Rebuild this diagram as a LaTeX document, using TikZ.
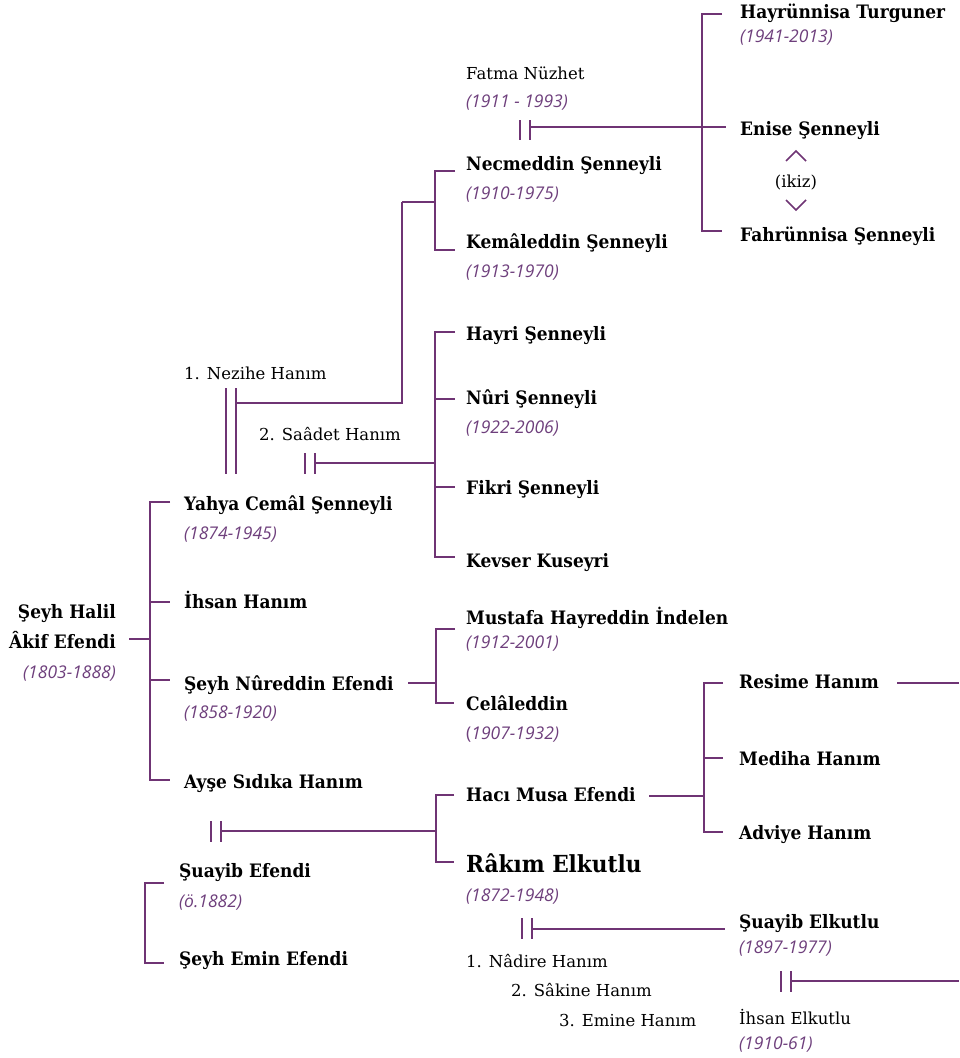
\documentclass[tikz,border=0pt]{standalone}
\usepackage{fontspec}
\setmainfont{DejaVu Serif}
\newfontfamily\slabfont{DejaVu Serif}
\newfontfamily\slabbold[FakeStretch=0.92]{DejaVu Serif Bold}
\newfontfamily\datefont{Open Sans}
\definecolor{lc}{HTML}{6F3474}
\definecolor{dc}{HTML}{6E3F7C}
\newcommand\nmf{\slabbold\fontsize{18.5}{20}\selectfont}
\newcommand\bigf{\slabbold\fontsize{23.5}{26}\selectfont}
\newcommand\rgf{\slabfont\fontsize{16.5}{20}\selectfont}
\newcommand\dtf{\datefont\itshape\fontsize{17.5}{20}\selectfont}
\tikzset{
  ln/.style={draw=lc, line width=1.8pt},
  nm/.style={anchor=base west, inner sep=0pt, font=\nmf, text=black},
  nmr/.style={anchor=base east, inner sep=0pt, font=\nmf, text=black},
  big/.style={anchor=base west, inner sep=0pt, font=\bigf, text=black},
  rg/.style={anchor=base west, inner sep=0pt, font=\rgf, text=black},
  dt/.style={anchor=base west, inner sep=0pt, font=\dtf, text=dc},
  dtr/.style={anchor=base east, inner sep=0pt, font=\dtf, text=dc},
}
\begin{document}
\begin{tikzpicture}[x=1pt,y=-1pt]
\useasboundingbox (0,0) rectangle (959,1058);

% ---------- texts ----------
\node[nmr] (halil1) at (116,618) {Şeyh Halil};
\node[nmr] (halil2) at (116,648) {Âkif Efendi};
\node[dtr] (halild) at (116,678) {(1803-1888)};

\node[nm] (yahya) at (184,510) {Yahya Cemâl Şenneyli};
\node[dt] (yahyad) at (184,539) {(1874-1945)};
\node[nm] (ihsan) at (184,608) {İhsan Hanım};
\node[nm] (nureddin) at (184,690) {Şeyh Nûreddin Efendi};
\node[dt] (nureddind) at (184,718) {(1858-1920)};
\node[nm] (ayse) at (184,788) {Ayşe Sıdıka Hanım};

\node[rg] (nezihe) at (184,379) {1. Nezihe Hanım};
\node[rg] (saadet) at (259,440) {2. Saâdet Hanım};

\node[nm] (necmeddin) at (466,170) {Necmeddin Şenneyli};
\node[dt] (necmeddind) at (466,199) {(1910-1975)};
\node[nm] (kemaleddin) at (466,248) {Kemâleddin Şenneyli};
\node[dt] (kemaleddind) at (466,277) {(1913-1970)};

\node[rg] (fatma) at (466,79) {Fatma Nüzhet};
\node[dt] (fatmad) at (466,107) {(1911 - 1993)};

\node[nm] (hayrunnisa) at (740,18) {Hayrünnisa Turguner};
\node[dt] (hayrunnisad) at (740,42) {(1941-2013)};
\node[nm] (enise) at (740,135) {Enise Şenneyli};
\node[rg, anchor=base] (ikiz) at (796,187) {(ikiz)};
\node[nm] (fahrunnisa) at (740,241) {Fahrünnisa Şenneyli};

\node[nm] (hayri) at (466,340) {Hayri Şenneyli};
\node[nm] (nuri) at (466,404) {Nûri Şenneyli};
\node[dt] (nurid) at (466,433) {(1922-2006)};
\node[nm] (fikri) at (466,494) {Fikri Şenneyli};
\node[nm] (kevser) at (466,567) {Kevser Kuseyri};

\node[nm] (mustafa) at (466,624) {Mustafa Hayreddin İndelen};
\node[dt] (mustafad) at (466,648) {(1912-2001)};
\node[nm] (celaleddin) at (466,710) {Celâleddin};
\node[dt] (celaleddind) at (466,739) {{\upshape(}1907-1932)};

\node[nm] (haci) at (466,801) {Hacı Musa Efendi};
\node[big] (rakim) at (466,872) {Râkım Elkutlu};
\node[dt] (rakimd) at (466,901) {(1872-1948)};

\node[nm] (resime) at (739,688) {Resime Hanım};
\node[nm] (mediha) at (739,765) {Mediha Hanım};
\node[nm] (adviye) at (739,839) {Adviye Hanım};

\node[nm] (suayibe) at (179,877) {Şuayib Efendi};
\node[dt] (suayibed) at (179,907) {(ö.1882)};
\node[nm] (emin) at (179,965) {Şeyh Emin Efendi};

\node[nm] (suayibk) at (739,928) {Şuayib Elkutlu};
\node[dt] (suayibkd) at (739,953) {(1897-1977)};
\node[rg] (nadire) at (466,967) {1. Nâdire Hanım};
\node[rg] (sakine) at (511,996) {2. Sâkine Hanım};
\node[rg] (emine) at (559,1026) {3. Emine Hanım};
\node[rg] (ihsank) at (739,1024) {İhsan Elkutlu};
\node[dt] (ihsankd) at (739,1049) {(1910-61)};

% ---------- coordinates ----------
% root
\coordinate (r0) at (129,639);
\coordinate (r1) at (150,639);
\coordinate (rt) at (150,502);
\coordinate (rb) at (150,780);
\coordinate (ry) at (170,502);
\coordinate (ri) at (170,602);
\coordinate (rn) at (170,680);
\coordinate (ra) at (170,780);
\coordinate (rin) at (150,602);
\coordinate (rnn) at (150,680);

% Nezihe marriage
\coordinate (m1a) at (226,388); \coordinate (m1b) at (226,474);
\coordinate (m1c) at (236,388); \coordinate (m1d) at (236,474);
\coordinate (m1h) at (236,403);
\coordinate (m1k) at (402,403);
\coordinate (m1u) at (402,202);
\coordinate (m1j) at (435,202);
\coordinate (nkt) at (435,171); \coordinate (nkb) at (435,250);
\coordinate (nke1) at (455,171); \coordinate (nke2) at (455,250);

% Saadet marriage
\coordinate (m2a) at (305,453); \coordinate (m2b) at (305,474);
\coordinate (m2c) at (315,453); \coordinate (m2d) at (315,474);
\coordinate (m2h) at (315,463);
\coordinate (m2j) at (435,463);
\coordinate (sat) at (435,332); \coordinate (sab) at (435,557);
\coordinate (sa2) at (435,399); \coordinate (sa3) at (435,487);
\coordinate (sae1) at (455,332); \coordinate (sae2) at (455,399);
\coordinate (sae3) at (455,487); \coordinate (sae4) at (455,557);

% Fatma marriage
\coordinate (m3a) at (520,120); \coordinate (m3b) at (520,140);
\coordinate (m3c) at (530,120); \coordinate (m3d) at (530,140);
\coordinate (m3h) at (530,127);
\coordinate (m3e) at (726,127);
\coordinate (ft) at (702,14); \coordinate (fb) at (702,231);
\coordinate (fe1) at (722,14); \coordinate (fe2) at (722,231);
% chevrons
\coordinate (cu1) at (786,161); \coordinate (cu2) at (796,151); \coordinate (cu3) at (806,161);
\coordinate (cd1) at (786,200); \coordinate (cd2) at (796,210); \coordinate (cd3) at (806,200);

% Nureddin children
\coordinate (nu0) at (408,683); \coordinate (nu1) at (436,683);
\coordinate (nut) at (436,629); \coordinate (nub) at (436,703);
\coordinate (nue1) at (455,629); \coordinate (nue2) at (454,703);

% Ayse marriage
\coordinate (m4a) at (211,821); \coordinate (m4b) at (211,842);
\coordinate (m4c) at (221,821); \coordinate (m4d) at (221,842);
\coordinate (m4h) at (221,831);
\coordinate (m4j) at (436,831);
\coordinate (at) at (436,795); \coordinate (ab) at (436,862);
\coordinate (ae1) at (454,795); \coordinate (ae2) at (454,862);

% Haci Musa children
\coordinate (h0) at (649,796); \coordinate (h1) at (704,796);
\coordinate (ht) at (704,683); \coordinate (hb) at (704,832);
\coordinate (hm) at (704,758);
\coordinate (he1) at (723,683); \coordinate (he2) at (723,758); \coordinate (he3) at (723,832);
\coordinate (rs0) at (897,683); \coordinate (rs1) at (959,683);

% Suayib Efendi bracket
\coordinate (st) at (145,883); \coordinate (sb) at (145,963);
\coordinate (se1) at (164,883); \coordinate (se2) at (164,963);

% Rakim marriage
\coordinate (m5a) at (522,918); \coordinate (m5b) at (522,939);
\coordinate (m5c) at (532,918); \coordinate (m5d) at (532,939);
\coordinate (m5h) at (532,929);
\coordinate (m5e) at (725,929);

% Suayib Elkutlu marriage
\coordinate (m6a) at (781,971); \coordinate (m6b) at (781,992);
\coordinate (m6c) at (791,971); \coordinate (m6d) at (791,992);
\coordinate (m6h) at (791,981);
\coordinate (m6e) at (959,981);

% ---------- connectors ----------
\draw[ln] (r0) -- (r1);
\draw[ln] (ry) -- (rt) -- (rb) -- (ra);
\draw[ln] (rin) -- (ri);
\draw[ln] (rnn) -- (rn);

\draw[ln] (m1a) -- (m1b);
\draw[ln] (m1c) -- (m1d);
\draw[ln] (m1h) -- (m1k) -- (m1u);
\draw[ln] (m1u) -- (m1j);
\draw[ln] (nke1) -- (nkt) -- (nkb) -- (nke2);

\draw[ln] (m2a) -- (m2b);
\draw[ln] (m2c) -- (m2d);
\draw[ln] (m2h) -- (m2j);
\draw[ln] (sae1) -- (sat) -- (sab) -- (sae4);
\draw[ln] (sa2) -- (sae2);
\draw[ln] (sa3) -- (sae3);

\draw[ln] (m3a) -- (m3b);
\draw[ln] (m3c) -- (m3d);
\draw[ln] (m3h) -- (m3e);
\draw[ln] (fe1) -- (ft) -- (fb) -- (fe2);
\draw[ln, line width=1.5pt] (cu1) -- (cu2) -- (cu3);
\draw[ln, line width=1.5pt] (cd1) -- (cd2) -- (cd3);

\draw[ln] (nu0) -- (nu1);
\draw[ln] (nue1) -- (nut) -- (nub) -- (nue2);

\draw[ln] (m4a) -- (m4b);
\draw[ln] (m4c) -- (m4d);
\draw[ln] (m4h) -- (m4j);
\draw[ln] (ae1) -- (at) -- (ab) -- (ae2);

\draw[ln] (h0) -- (h1);
\draw[ln] (he1) -- (ht) -- (hb) -- (he3);
\draw[ln] (hm) -- (he2);
\draw[ln] (rs0) -- (rs1);

\draw[ln] (se1) -- (st) -- (sb) -- (se2);

\draw[ln] (m5a) -- (m5b);
\draw[ln] (m5c) -- (m5d);
\draw[ln] (m5h) -- (m5e);

\draw[ln] (m6a) -- (m6b);
\draw[ln] (m6c) -- (m6d);
\draw[ln] (m6h) -- (m6e);
\end{tikzpicture}
\end{document}
